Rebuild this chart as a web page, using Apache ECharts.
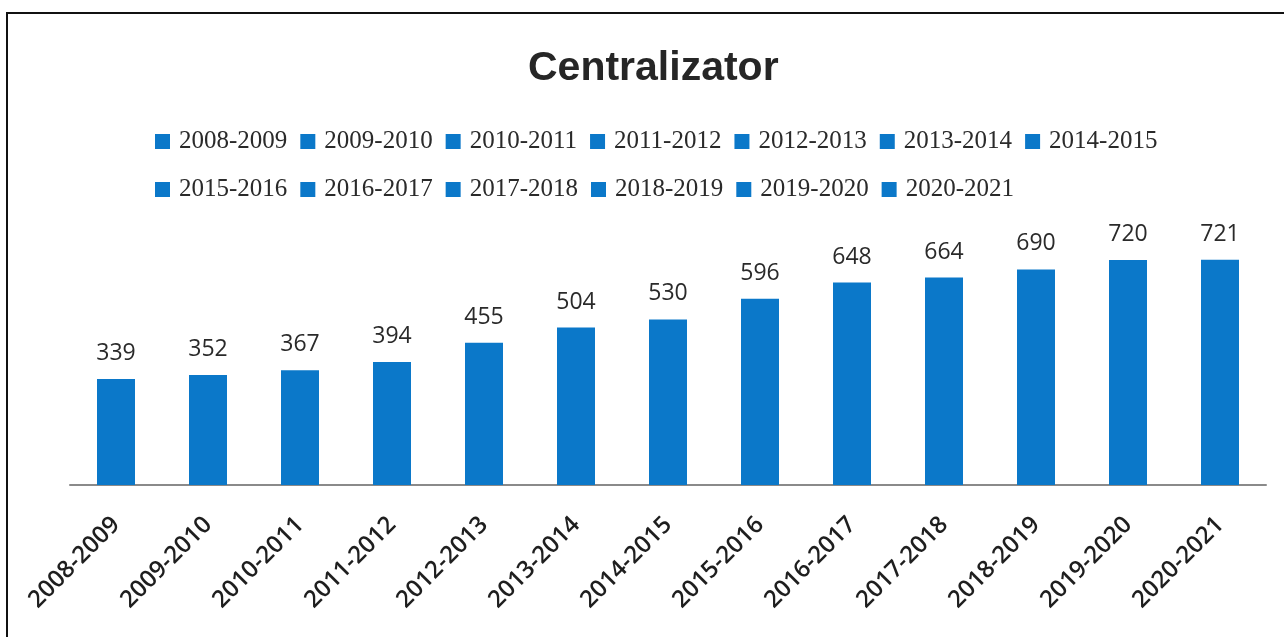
<!DOCTYPE html>
<html>
<head>
<meta charset="utf-8">
<script src="https://cdn.jsdelivr.net/npm/echarts@6/dist/echarts.min.js"></script>
<style>
  html, body { margin: 0; padding: 0; background: #fff; overflow: hidden; }
  #frame { position: absolute; left: 6px; top: 12px; width: 1300px; height: 700px; border: 2px solid #111; box-sizing: border-box; }
  #main { position: absolute; left: 0; top: 0; width: 1284px; height: 637px; }
</style>
</head>
<body>
<div id="frame"></div>
<div id="main"></div>
<script>
// school years and the totals per year
var years = ['2008-2009', '2009-2010', '2010-2011', '2011-2012', '2012-2013', '2013-2014', '2014-2015',
             '2015-2016', '2016-2017', '2017-2018', '2018-2019', '2019-2020', '2020-2021'];
var totals = [339, 352, 367, 394, 455, 504, 530, 596, 648, 664, 690, 720, 721];

var blue = '#0b78c9';

var myChart = echarts.init(document.getElementById('main'));

// one series per year so every year gets its own legend entry
var series = years.map(function (y, i) {
  return {
    name: y,
    type: 'bar',
    stack: 'total',
    barWidth: 38,
    itemStyle: { color: blue },
    label: {
      show: true,
      position: 'top',
      distance: 14,
      fontFamily: 'Open Sans',
      fontSize: 23,
      color: '#2a2a2a'
    },
    data: totals.map(function (v, j) { return j === i ? v : '-'; })
  };
});

var option = {
  animation: false,
  title: {
    text: 'Centralizator',
    left: 523,
    top: 42,
    textStyle: {
      fontFamily: 'Liberation Sans',
      fontWeight: 'bold',
      fontSize: 41,
      lineHeight: 44,
      color: '#262626'
    }
  },
  legend: {
    data: years,
    left: 150,
    top: 119,
    width: 1030,
    itemWidth: 15,
    itemHeight: 15,
    itemGap: 13,
    icon: 'rect',
    textStyle: {
      fontFamily: 'Liberation Serif',
      fontSize: 25,
      lineHeight: 35,
      color: '#2a2a2a',
      padding: [0, 0, 0, 4]
    }
  },
  grid: { left: 70, right: 18, top: 235, bottom: 152 },
  xAxis: {
    type: 'category',
    data: years,
    axisLine: { lineStyle: { color: '#8a8a8a', width: 2 } },
    axisTick: { show: false },
    axisLabel: {
      rotate: 45,
      interval: 0,
      margin: 36,
      fontFamily: 'Open Sans',
      fontWeight: 600,
      fontSize: 24,
      color: '#1e1e1e'
    }
  },
  yAxis: {
    type: 'value',
    min: 0,
    max: 800,
    show: false,
    splitLine: { show: false }
  },
  series: series
};

myChart.setOption(option);
</script>
</body>
</html>
